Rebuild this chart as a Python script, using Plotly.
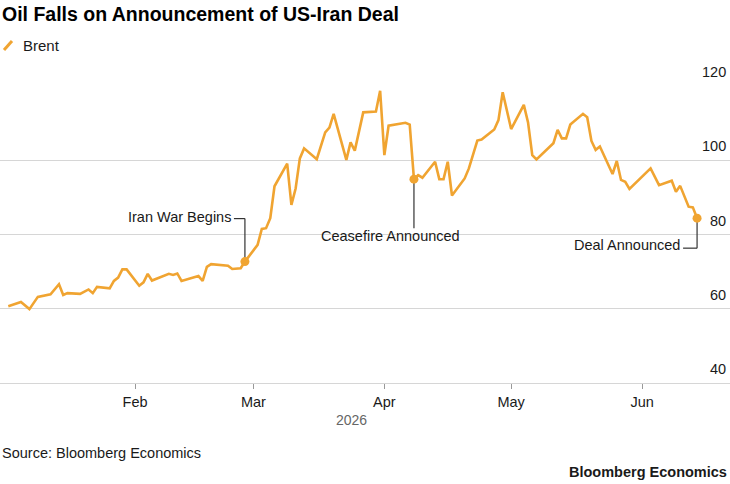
import plotly.graph_objects as go

# ---- data ----
dates = [
    "2026-01-02", "2026-01-05", "2026-01-07", "2026-01-09", "2026-01-12", "2026-01-14",
    "2026-01-15", "2026-01-16", "2026-01-19", "2026-01-21", "2026-01-22", "2026-01-23",
    "2026-01-26", "2026-01-27", "2026-01-28", "2026-01-29", "2026-01-30", "2026-02-02",
    "2026-02-03", "2026-02-04", "2026-02-05", "2026-02-09", "2026-02-10", "2026-02-11",
    "2026-02-12", "2026-02-16", "2026-02-17", "2026-02-18", "2026-02-19", "2026-02-23",
    "2026-02-24", "2026-02-26", "2026-02-27", "2026-03-02", "2026-03-03", "2026-03-04",
    "2026-03-05", "2026-03-06", "2026-03-09", "2026-03-10", "2026-03-11", "2026-03-12",
    "2026-03-13", "2026-03-16", "2026-03-18", "2026-03-19", "2026-03-20", "2026-03-23",
    "2026-03-24", "2026-03-25", "2026-03-27", "2026-03-30", "2026-03-31", "2026-04-01",
    "2026-04-02", "2026-04-06", "2026-04-07", "2026-04-08", "2026-04-09", "2026-04-10",
    "2026-04-13", "2026-04-14", "2026-04-15", "2026-04-16", "2026-04-17", "2026-04-20",
    "2026-04-21", "2026-04-23", "2026-04-24", "2026-04-27", "2026-04-28", "2026-04-29",
    "2026-05-01", "2026-05-04", "2026-05-05", "2026-05-06", "2026-05-07", "2026-05-11",
    "2026-05-12", "2026-05-13", "2026-05-14", "2026-05-15", "2026-05-18", "2026-05-19",
    "2026-05-20", "2026-05-21", "2026-05-22", "2026-05-25", "2026-05-26", "2026-05-27",
    "2026-05-28", "2026-05-29", "2026-06-03", "2026-06-05", "2026-06-08", "2026-06-09",
    "2026-06-10", "2026-06-12", "2026-06-13", "2026-06-14",
]
brent = [
    60.7, 61.8, 59.9, 63.2, 63.9, 66.6,
    63.7, 64.2, 64.0, 65.2, 64.2, 65.9,
    65.5, 67.5, 68.4, 70.6, 70.6, 66.2,
    67.1, 69.4, 67.6, 69.4, 69.1, 69.5,
    67.5, 68.8, 67.5, 71.3, 72.0, 71.6,
    70.7, 70.9, 72.7, 77.2, 81.5, 81.7,
    84.4, 93.0, 99.1, 88.0, 92.4, 100.5,
    103.2, 100.3, 107.5, 108.8, 112.5, 100.1,
    104.8, 102.6, 112.9, 113.1, 118.7, 101.4,
    109.3, 110.1, 109.6, 94.9, 96.0, 95.3,
    99.6, 94.9, 94.9, 99.6, 90.5, 95.1,
    97.8, 105.3, 105.6, 108.3, 110.8, 118.3,
    108.4, 114.9, 110.2, 101.4, 100.2, 104.6,
    108.2, 105.9, 105.9, 109.6, 112.5, 111.6,
    105.2, 102.8, 103.7, 96.3, 99.8, 94.7,
    94.2, 92.3, 97.8, 93.3, 94.5, 91.5,
    93.1, 87.5, 87.3, 84.4,
]
event_dates = ["2026-02-27", "2026-04-08", "2026-06-14"]
event_labels = ["Iran War Begins", "Ceasefire Announced", "Deal Announced"]
event_values = [brent[dates.index(d)] for d in event_dates]

month_ticks = ["2026-02-01", "2026-03-01", "2026-04-01", "2026-05-01", "2026-06-01"]
month_labels = ["Feb", "Mar", "Apr", "May", "Jun"]
y_ticks = [40, 60, 80, 100, 120]

ORANGE = "#F0A431"
GRID = "#d6d6d6"
TEXT = "#1a1a1a"
FONT = "Liberation Sans, Arial, sans-serif"

fig = go.Figure()
fig.add_trace(go.Scatter(x=dates, y=brent, mode="lines",
                         line=dict(color=ORANGE, width=2.6), hoverinfo="skip",
                         showlegend=False))
fig.add_trace(go.Scatter(x=event_dates, y=event_values, mode="markers",
                         marker=dict(color=ORANGE, size=9), showlegend=False,
                         cliponaxis=False, hoverinfo="skip"))

annotations = []
shapes = []

# y tick labels above gridlines on the right
for v in y_ticks:
    annotations.append(dict(x=1, xref="paper", y=v, yref="y", text=str(v),
                            xanchor="right", yanchor="middle", xshift=-2, yshift=14,
                            showarrow=False, font=dict(size=14.5, color=TEXT, family=FONT)))

# event annotations: (text xshift, yshift, xanchor, connector path in pixels)
ev_cfg = [
    dict(xshift=-12, yshift=45, xanchor="right", segs=[(0, 0, 0, 43), (0, 43, -11, 43)]),
    dict(xshift=-23, yshift=-57, xanchor="center", segs=[(0, 0, 0, -49)]),
    dict(xshift=-15, yshift=-27, xanchor="right", segs=[(0, 0, 0, -30), (0, -30, -14, -30)]),
]
for d, v, lab, cfg in zip(event_dates, event_values, event_labels, ev_cfg):
    annotations.append(dict(x=d, y=v, xref="x", yref="y", text=lab, showarrow=False,
                            xanchor=cfg["xanchor"], yanchor="middle",
                            xshift=cfg["xshift"], yshift=cfg["yshift"],
                            font=dict(size=14.5, color=TEXT, family=FONT)))
    for (x0, y0, x1, y1) in cfg["segs"]:
        shapes.append(dict(type="line", xref="x", yref="y", xsizemode="pixel",
                           ysizemode="pixel", xanchor=d, yanchor=v,
                           x0=x0, y0=y0, x1=x1, y1=y1, layer="between",
                           line=dict(color="#333333", width=1.2)))

# title
annotations.append(dict(x=0, xref="paper", y=1, yref="paper", yshift=72, xanchor="left",
                        yanchor="middle", showarrow=False,
                        text="<b>Oil Falls on Announcement of US-Iran Deal</b>",
                        font=dict(size=19.5, color="#000000", family=FONT)))
# legend
shapes.append(dict(type="line", xref="paper", yref="paper", xsizemode="pixel",
                   ysizemode="pixel", xanchor=0, yanchor=1, x0=4, y0=36, x1=12, y1=45,
                   line=dict(color=ORANGE, width=3)))
annotations.append(dict(x=0, xref="paper", y=1, yref="paper", xshift=21, yshift=41,
                        xanchor="left", yanchor="middle", showarrow=False, text="Brent",
                        font=dict(size=15, color=TEXT, family=FONT)))
# year label
annotations.append(dict(x=0.482, xref="paper", y=0, yref="paper", yshift=-37,
                        xanchor="center", yanchor="middle", showarrow=False, text="2026",
                        font=dict(size=14, color="#666666", family=FONT)))
# source
annotations.append(dict(x=0, xref="paper", y=0, yref="paper", yshift=-70,
                        xanchor="left", yanchor="middle", showarrow=False,
                        text="Source: Bloomberg Economics",
                        font=dict(size=14.5, color=TEXT, family=FONT)))
annotations.append(dict(x=1, xref="paper", y=0, yref="paper", yshift=-89, xshift=-1,
                        xanchor="right", yanchor="middle", showarrow=False,
                        text="<b>Bloomberg Economics</b>",
                        font=dict(size=14.5, color=TEXT, family=FONT)))

fig.update_layout(
    width=730, height=484,
    margin=dict(l=0, r=0, t=86, b=101),
    paper_bgcolor="white", plot_bgcolor="white",
    showlegend=False,
    annotations=annotations, shapes=shapes,
    xaxis=dict(type="date", range=["2025-12-31 01:00", "2026-06-21 19:00"],
               tickvals=month_ticks, ticktext=month_labels, showgrid=False,
               showline=True, linecolor=GRID, linewidth=1.2,
               ticks="outside", ticklen=5, tickcolor="#999999", tickwidth=1,
               tickfont=dict(size=14.5, color=TEXT, family=FONT), zeroline=False),
    yaxis=dict(range=[40, 120], tickvals=y_ticks, showticklabels=False,
               showgrid=True, gridcolor=GRID, gridwidth=1.2, zeroline=False,
               ticks=""),
)
fig.write_html("out.html")
